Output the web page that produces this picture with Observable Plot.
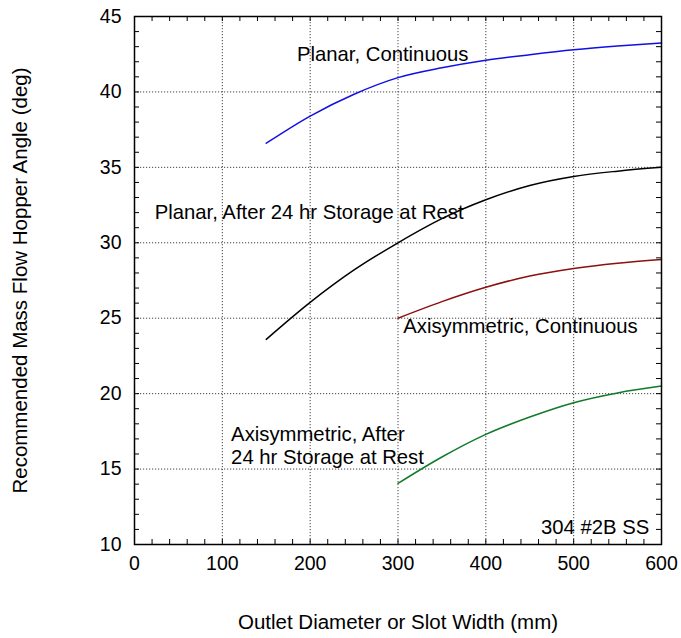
<!DOCTYPE html>
<html><head><meta charset="utf-8">
<script src="https://cdn.jsdelivr.net/npm/d3@7"></script>
<script src="https://cdn.jsdelivr.net/npm/@observablehq/plot@0.6"></script>
<style>body{margin:0;background:#fff} #chart svg{font-family:"Liberation Sans",Arial,sans-serif;}</style>
</head><body><div id="chart"></div>
<script>
// Data
const planarX = [150, 200, 250, 300, 350, 400, 450, 500, 550, 600];
const planarContinuous = [36.6, 38.4, 39.85, 40.95, 41.6, 42.1, 42.47, 42.8, 43.05, 43.25];
const planar24hr = [23.6, 26.05, 28.2, 30.0, 31.6, 32.85, 33.8, 34.4, 34.75, 35.0];
const axiX = [300, 350, 400, 450, 500, 550, 600];
const axiContinuous = [25.0, 26.1, 27.05, 27.8, 28.3, 28.65, 28.9];
const axi24hr = [14.05, 15.8, 17.3, 18.45, 19.4, 20.05, 20.5];

const seriesNames = ["Planar, Continuous", "Planar, After 24 hr Storage at Rest", "Axisymmetric, Continuous", "Axisymmetric, After 24 hr Storage at Rest"];
const seriesColors = ["#1010e6", "#000000", "#8b1010", "#127a2a"];

const labelTexts = ["Planar, Continuous", "Planar, After 24 hr Storage at Rest", "Axisymmetric, Continuous", "Axisymmetric, After\n24 hr Storage at Rest", "304 #2B SS"];
const labelX = [185, 23, 306, 110, 586];
const labelY = [42.55, 32.1, 24.5, 16.6, 11.15];
const labelAnchor = ["start", "start", "start", "start", "end"];

const xMajor = [0, 100, 200, 300, 400, 500, 600];
const yMajor = [10, 15, 20, 25, 30, 35, 40, 45];
const xMinor = d3.range(0, 601, 20);
const yMinor = d3.range(10, 46, 1);
const xGrid = [100, 200, 300, 400, 500];
const yGrid = [15, 20, 25, 30, 35, 40];

const W = 681, H = 638, mL = 134, mR = 20, mT = 16, mB = 94;
const innerW = W - mL - mR, innerH = H - mT - mB;
const tickLen = 5;

const rows = [];
planarX.forEach((x, i) => rows.push({s: seriesNames[0], x, y: planarContinuous[i]}));
planarX.forEach((x, i) => rows.push({s: seriesNames[1], x, y: planar24hr[i]}));
axiX.forEach((x, i) => rows.push({s: seriesNames[2], x, y: axiContinuous[i]}));
axiX.forEach((x, i) => rows.push({s: seriesNames[3], x, y: axi24hr[i]}));

const labels = labelTexts.map((t, i) => ({t, x: labelX[i], y: labelY[i], a: labelAnchor[i]}));

const chart = Plot.plot({
  width: W, height: H,
  marginLeft: mL, marginRight: mR, marginTop: mT, marginBottom: mB,
  style: {fontSize: "20px", fontFamily: "'Liberation Sans', Arial, sans-serif", background: "#fff", color: "#000"},
  x: {domain: [0, 600]},
  y: {domain: [10, 45]},
  color: {domain: seriesNames, range: seriesColors},
  marks: [
    Plot.ruleX(xGrid, {x: d => d, stroke: "#444", strokeDasharray: "1.2,1.8", strokeWidth: 1}),
    Plot.ruleY(yGrid, {y: d => d, stroke: "#444", strokeDasharray: "1.2,1.8", strokeWidth: 1}),
    Plot.tickX(xMinor, {x: d => d, insetTop: innerH - tickLen, stroke: "#000"}),
    Plot.tickX(xMinor, {x: d => d, insetBottom: innerH - tickLen, stroke: "#000"}),
    Plot.tickY(yMinor, {y: d => d, insetRight: innerW - tickLen, stroke: "#000"}),
    Plot.tickY(yMinor, {y: d => d, insetLeft: innerW - tickLen, stroke: "#000"}),
    Plot.line(rows, {x: "x", y: "y", z: "s", stroke: "s", curve: "monotone-x", strokeWidth: 1.5}),
    Plot.text(labels.filter(d => d.a === "start"), {x: "x", y: "y", text: "t", textAnchor: "start", lineHeight: 1.15, fill: "#000", fontSize: 20.3}),
    Plot.text(labels.filter(d => d.a === "end"), {x: "x", y: "y", text: "t", textAnchor: "end", fill: "#000", fontSize: 20.3}),
    Plot.frame({stroke: "#000", strokeWidth: 1.5}),
    Plot.axisX(xMajor, {anchor: "bottom", tickSize: 0, tickPadding: 12, fontSize: 19.5, label: null}),
    Plot.axisX({anchor: "bottom", ticks: [], tickSize: 0, label: "Outlet Diameter or Slot Width (mm)", labelAnchor: "center", labelArrow: "none", labelOffset: 84, fontSize: 20.5}),
    Plot.axisY(yMajor, {anchor: "left", tickSize: 0, tickPadding: 13, fontSize: 19.5, label: null}),
    Plot.axisY({anchor: "left", ticks: [], tickSize: 0, label: "Recommended Mass Flow Hopper Angle (deg)", labelAnchor: "center", labelArrow: "none", labelOffset: 122, fontSize: 20.5})
  ]
});
document.getElementById("chart").appendChild(chart);
</script>
</body></html>
